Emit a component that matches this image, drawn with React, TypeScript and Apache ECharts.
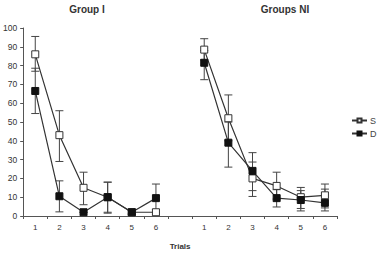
import React, { useEffect, useRef } from "react";
import * as echarts from "echarts";

// Trials for both groups on one shared axis, blank slot between groups
const trials = ["1", "2", "3", "4", "5", "6", "", "1", "2", "3", "4", "5", "6"];

// Group I (first six) and Groups NI (last six), null = gap between groups
const sValues = [86, 43, 15, 10, 2, 2, null, 88.5, 52, 20, 16, 10, 11];
const dValues = [66.5, 10.5, 2, 10, 2, 9.5, null, 81.5, 39, 24, 9.5, 8.5, 7];

// Error bar bounds
const sLow = [77, 29, 6, 2, 1, 0.5, null, 83, 40, 10.4, 9, 4, 4.3];
const sHigh = [95.5, 56, 23.3, 18, 3.5, 3.5, null, 94.3, 64.4, 28.7, 23.3, 15.2, 17];
const dLow = [54.5, 2.2, 2, 1.5, 1, 2, null, 72.5, 26, 13.5, 4.8, 2.7, 2.7];
const dHigh = [78.6, 18.7, 2, 18, 3, 17, null, 88, 50, 33.7, 14, 13.5, 14.3];

const groupTitles = ["Group I", "Groups NI"];

const ink = "#333";
const font = "Liberation Sans, Arial, sans-serif";

function errorSeries(low: (number | null)[], high: (number | null)[]) {
  const data = low
    .map((l, i) => (l == null || high[i] == null ? null : [i, l, high[i]]))
    .filter((d) => d !== null);
  return {
    type: "custom",
    silent: true,
    z: 1,
    data,
    encode: { x: 0, y: [1, 2] },
    renderItem: (params: any, api: any) => {
      const x = api.value(0);
      const lo = api.coord([x, api.value(1)]);
      const hi = api.coord([x, api.value(2)]);
      const half = 4;
      const style = { stroke: "#444", lineWidth: 1 };
      return {
        type: "group",
        children: [
          { type: "line", shape: { x1: lo[0], y1: lo[1], x2: hi[0], y2: hi[1] }, style },
          { type: "line", shape: { x1: lo[0] - half, y1: lo[1], x2: lo[0] + half, y2: lo[1] }, style },
          { type: "line", shape: { x1: hi[0] - half, y1: hi[1], x2: hi[0] + half, y2: hi[1] }, style },
        ],
      };
    },
  };
}

export default function App() {
  const ref = useRef<HTMLDivElement>(null);

  useEffect(() => {
    if (!ref.current) return;
    const chart = echarts.init(ref.current, null, { renderer: "svg" });
    const titleStyle = (text: string) => ({
      text,
      fontSize: 10,
      fontWeight: "bold",
      fill: "#333",
      align: "center",
      verticalAlign: "middle",
      fontFamily: font,
    });
    chart.setOption({
      animation: false,
      backgroundColor: "#fff",
      textStyle: { fontFamily: font },
      grid: { left: 15, right: 40, top: 28, bottom: 34, containLabel: false },
      graphic: [
        { type: "text", x: 87, y: 9, style: titleStyle(groupTitles[0]) },
        { type: "text", x: 285, y: 9, style: titleStyle(groupTitles[1]) },
      ],
      legend: {
        orient: "vertical",
        left: 346,
        top: 111,
        itemGap: 4,
        itemWidth: 15,
        itemHeight: 5,
        data: ["S", "D"],
        textStyle: { fontSize: 9, color: "#444", padding: [0, 0, 0, -2] },
      },
      xAxis: {
        type: "category",
        data: trials,
        boundaryGap: true,
        name: "Trials",
        nameLocation: "middle",
        nameGap: 26,
        nameTextStyle: { fontSize: 8, fontWeight: "bold", color: "#333" },
        axisLine: { lineStyle: { color: "#555", width: 1 } },
        axisTick: { show: true, interval: 0, length: 3, lineStyle: { color: "#555" } },
        axisLabel: { interval: 0, fontSize: 8, color: "#333", margin: 7 },
      },
      yAxis: {
        type: "value",
        min: 0,
        max: 100,
        interval: 10,
        splitLine: { show: false },
        axisLine: { show: true, lineStyle: { color: "#555", width: 1 } },
        axisTick: { show: true, length: 3, lineStyle: { color: "#555" } },
        axisLabel: { fontSize: 8.5, color: "#333", margin: 6 },
      },
      series: [
        errorSeries(sLow, sHigh),
        errorSeries(dLow, dHigh),
        {
          name: "S",
          type: "line",
          data: sValues,
          connectNulls: false,
          symbol: "rect",
          symbolSize: 7,
          z: 3,
          lineStyle: { color: ink, width: 1.2 },
          itemStyle: { color: "#fff", borderColor: ink, borderWidth: 1 },
        },
        {
          name: "D",
          type: "line",
          data: dValues,
          connectNulls: false,
          symbol: "rect",
          symbolSize: 7,
          z: 4,
          lineStyle: { color: ink, width: 1.2 },
          itemStyle: { color: "#111", borderColor: "#111", borderWidth: 1 },
        },
      ],
    });
    return () => chart.dispose();
  }, []);

  return (
    <div
      ref={ref}
      style={{ position: "fixed", left: 0, top: 0, width: 377, height: 255 }}
    />
  );
}
